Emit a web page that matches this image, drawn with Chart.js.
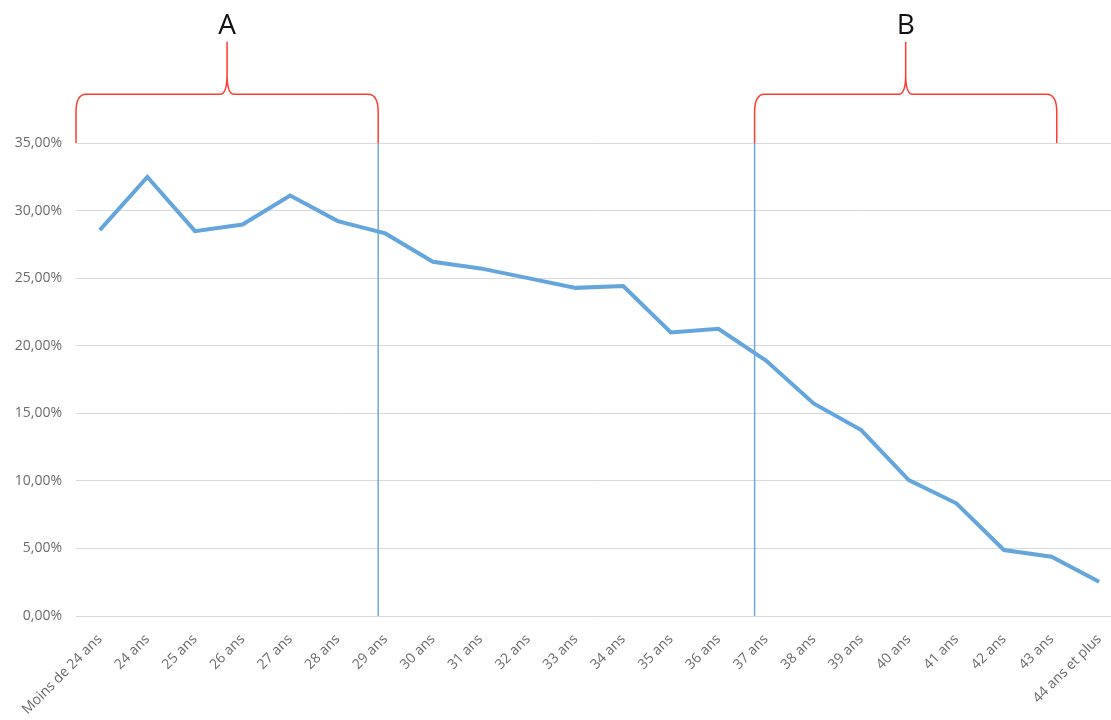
<!DOCTYPE html>
<html lang="fr">
<head>
<meta charset="utf-8"/>
<title>Taux par âge</title>
<script src="https://cdn.jsdelivr.net/npm/chart.js"></script>
<style>
    body {
      margin: 0;
      padding: 0;
      background-color: #fff;
      overflow: hidden;
    }
    .chart-box {
      position: relative;
      width: 1126px;
      height: 720px;
    }
  </style>
</head>
<body>
<div class="chart-box">
<canvas id="ageChart"></canvas>
</div>
<script>
    const ageLabels = ['Moins de 24 ans', '24 ans', '25 ans', '26 ans', '27 ans', '28 ans', '29 ans',
      '30 ans', '31 ans', '32 ans', '33 ans', '34 ans', '35 ans', '36 ans', '37 ans', '38 ans',
      '39 ans', '40 ans', '41 ans', '42 ans', '43 ans', '44 ans et plus'];
    const tauxValues = [28.55, 32.49, 28.48, 28.97, 31.12, 29.22, 28.31, 26.21, 25.72, 25.0, 24.28,
      24.41, 20.98, 21.25, 18.9, 15.73, 13.76, 10.06, 8.34, 4.88, 4.39, 2.54];

    // groupes A et B (positions en index de catégorie)
    const groupNames = ['A', 'B'];
    const groupStart = [-0.5, 13.76];
    const groupEnd = [5.85, 20.11];

    const yMax = 35;
    const yStep = 5;
    const braceTop = 38.6;
    const bracePeak = 42.5;
    const letterBase = 43.1;

    const fmt = v => v.toFixed(2).replace('.', ',') + '%';

    const groupesPlugin = {
      id: 'groupes',
      afterDatasetsDraw(chart) {
        const ctx = chart.ctx;
        const x = chart.scales.x;
        const y = chart.scales.y;
        const yb = y.getPixelForValue(yMax);
        const y0 = y.getPixelForValue(0);
        const yt = y.getPixelForValue(braceTop);
        const yp = y.getPixelForValue(bracePeak);
        ctx.save();
        groupNames.forEach((name, i) => {
          const x0 = x.getPixelForValue(groupStart[i]);
          const x1 = x.getPixelForValue(groupEnd[i]);
          const xm = (x0 + x1) / 2;

          // trait vertical bleu
          ctx.strokeStyle = '#6fa8dc';
          ctx.lineWidth = 1.5;
          ctx.beginPath();
          const xv = i === 0 ? x1 : x0;
          ctx.moveTo(xv, yb);
          ctx.lineTo(xv, y0);
          ctx.stroke();

          // accolade rouge
          ctx.strokeStyle = '#ff3b30';
          ctx.lineWidth = 1.5;
          ctx.beginPath();
          ctx.moveTo(x0, yb);
          ctx.lineTo(x0, yt + 18);
          ctx.quadraticCurveTo(x0, yt, x0 + 10, yt);
          ctx.lineTo(xm - 7, yt);
          ctx.quadraticCurveTo(xm, yt, xm, yt - 20);
          ctx.lineTo(xm, yp);
          ctx.moveTo(xm, yt - 20);
          ctx.quadraticCurveTo(xm, yt, xm + 7, yt);
          ctx.lineTo(x1 - 10, yt);
          ctx.quadraticCurveTo(x1, yt, x1, yt + 18);
          ctx.lineTo(x1, yb);
          ctx.stroke();

          ctx.fillStyle = '#111';
          ctx.font = '28px "Open Sans", sans-serif';
          ctx.textAlign = 'center';
          ctx.textBaseline = 'alphabetic';
          ctx.fillText(name, xm, y.getPixelForValue(letterBase));
        });
        ctx.restore();
      }
    };

    const ctx = document.getElementById('ageChart').getContext('2d');
    new Chart(ctx, {
      type: 'line',
      data: {
        labels: ageLabels,
        datasets: [{
          label: 'Taux',
          data: tauxValues,
          borderColor: '#64a5dc',
          borderWidth: 4,
          pointRadius: 0,
          tension: 0,
          fill: false
        }]
      },
      options: {
        responsive: true,
        maintainAspectRatio: false,
        animation: false,
        layout: {
          padding: { top: 143, left: 0, right: 0, bottom: 0 }
        },
        plugins: {
          legend: { display: false },
          tooltip: { enabled: false }
        },
        scales: {
          x: {
            offset: true,
            grid: { display: false, drawTicks: false },
            border: { display: false },
            ticks: {
              autoSkip: false,
              minRotation: 45,
              maxRotation: 45,
              padding: 15,
              color: '#6b6b6b',
              font: { family: '"Open Sans", sans-serif', size: 14 }
            },
            afterFit(scale) {
              scale.height = 104;
            }
          },
          y: {
            min: 0,
            max: yMax,
            grid: { color: '#d9d9d9', lineWidth: 1, drawTicks: false },
            border: { display: false },
            ticks: {
              stepSize: yStep,
              padding: 14,
              color: '#6b6b6b',
              font: { family: '"Open Sans", sans-serif', size: 14 },
              callback: v => fmt(v)
            },
            afterFit(scale) {
              scale.width = 76;
            }
          }
        }
      },
      plugins: [groupesPlugin]
    });
  </script>
</body>
</html>
